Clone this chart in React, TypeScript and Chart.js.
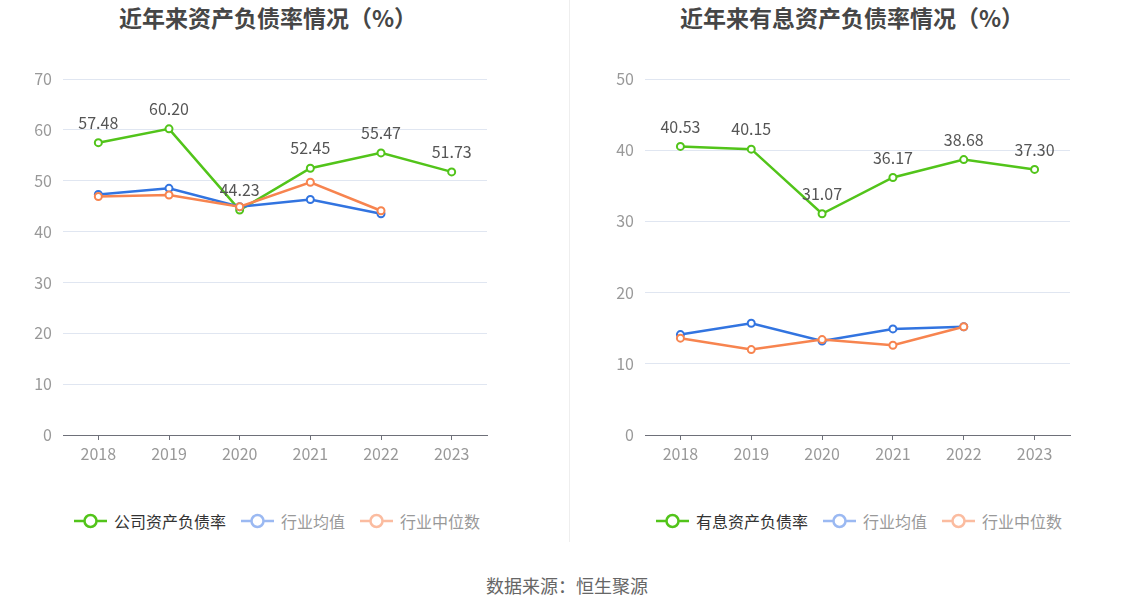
import React, { useEffect, useRef } from "react";
import { Chart, registerables } from "chart.js";

Chart.register(...registerables);

const FONT = '"Noto Sans CJK SC", "Noto Sans", sans-serif';

// --- data ---
const years = ["2018", "2019", "2020", "2021", "2022", "2023"];

const companyDebtRatio = [57.48, 60.2, 44.23, 52.45, 55.47, 51.73];
const industryAvgDebt = [47.3, 48.5, 44.9, 46.3, 43.5, null];
const industryMedianDebt = [46.9, 47.2, 44.9, 49.7, 44.1, null];

const interestDebtRatio = [40.53, 40.15, 31.07, 36.17, 38.68, 37.3];
const industryAvgInterest = [14.1, 15.7, 13.2, 14.9, 15.2, null];
const industryMedianInterest = [13.6, 12.0, 13.4, 12.6, 15.2, null];

const leftAxisMax = 70;
const rightAxisMax = 50;
const axisStep = 10;

const GREEN = "#52c41a";
const BLUE = "#3274e0";
const ORANGE = "#f7844f";
const BLUE_FADED = "#9bb9f2";
const ORANGE_FADED = "#fbbca0";

// draws the value above each point of the first series
const valueLabels = {
  id: "valueLabels",
  afterDatasetsDraw(chart: any) {
    const meta = chart.getDatasetMeta(0);
    const data = chart.data.datasets[0].data;
    const ctx = chart.ctx;
    ctx.save();
    ctx.font = `16px ${FONT}`;
    ctx.fillStyle = "#555";
    ctx.textAlign = "center";
    ctx.textBaseline = "middle";
    meta.data.forEach((pt: any, i: number) => {
      if (data[i] == null) return;
      ctx.fillText(Number(data[i]).toFixed(2), pt.x, pt.y - 20);
    });
    ctx.restore();
  },
};

function series(label: string, data: (number | null)[], color: string, order: number) {
  return {
    label,
    data,
    borderColor: color,
    backgroundColor: "#fff",
    pointBackgroundColor: "#fff",
    pointBorderColor: color,
    pointBorderWidth: 2,
    pointRadius: 3.5,
    borderWidth: 2.5,
    tension: 0,
    order,
  };
}

type PanelProps = {
  left: number;
  width: number;
  padLeft: number;
  padRight: number;
  yMax: number;
  datasets: any[];
};

function LinePanel({ left, width, padLeft, padRight, yMax, datasets }: PanelProps) {
  const canvasRef = useRef<HTMLCanvasElement>(null);

  useEffect(() => {
    if (!canvasRef.current) return;
    const chart = new Chart(canvasRef.current, {
      type: "line",
      data: { labels: years, datasets },
      options: {
        responsive: false,
        animation: false,
        layout: { padding: { top: 79, left: padLeft, right: padRight, bottom: 0 } },
        plugins: { legend: { display: false }, title: { display: false }, tooltip: { enabled: false } },
        scales: {
          x: {
            offset: true,
            grid: { drawOnChartArea: false, drawTicks: true, tickLength: 5, color: "#6e7079" },
            border: { display: true, color: "#6e7079", width: 1 },
            ticks: { color: "#999", font: { size: 16, family: FONT }, padding: 4 },
            afterFit: (s: any) => {
              s.height = 35;
            },
          },
          y: {
            min: 0,
            max: yMax,
            ticks: { stepSize: axisStep, color: "#999", font: { size: 16, family: FONT }, padding: 11 },
            grid: { color: "#e0e6f1", drawTicks: false },
            border: { display: false },
            afterFit: (s: any) => {
              s.width = 53;
            },
          },
        },
      },
      plugins: [valueLabels],
    });
    return () => chart.destroy();
  }, []);

  return (
    <canvas
      ref={canvasRef}
      width={width}
      height={470}
      style={{ position: "absolute", left, top: 0, width, height: 470 }}
    />
  );
}

function LegendMark({ color }: { color: string }) {
  return (
    <svg width="33" height="16" style={{ display: "block" }}>
      <line x1="0" y1="8" x2="33" y2="8" stroke={color} strokeWidth="2.5" />
      <circle cx="16.5" cy="8" r="6" fill="#fff" stroke={color} strokeWidth="2.5" />
    </svg>
  );
}

function Legend({ left, items }: { left: number; items: { label: string; color: string; text: string }[] }) {
  return (
    <div
      style={{
        position: "absolute",
        left,
        top: 509,
        height: 24,
        display: "flex",
        alignItems: "center",
        fontSize: 16,
        fontFamily: FONT,
      }}
    >
      {items.map((it, i) => (
        <div key={i} style={{ display: "flex", alignItems: "center", marginRight: 15 }}>
          <LegendMark color={it.color} />
          <span style={{ marginLeft: 7, color: it.text, lineHeight: "24px" }}>{it.label}</span>
        </div>
      ))}
    </div>
  );
}

export default function App() {
  useEffect(() => {
    document.body.style.margin = "0";
  }, []);

  const titleStyle: React.CSSProperties = {
    position: "absolute",
    top: 0,
    width: 500,
    textAlign: "center",
    fontSize: 23,
    fontWeight: "bold",
    lineHeight: "34px",
    color: "#464646",
    fontFamily: FONT,
  };

  return (
    <div style={{ position: "relative", width: 1134, height: 612, background: "#fff", overflow: "hidden" }}>
      <div style={{ ...titleStyle, left: 268 - 250 }}>近年来资产负债率情况（%）</div>
      <div style={{ ...titleStyle, left: 852 - 250 }}>近年来有息资产负债率情况（%）</div>

      <LinePanel
        left={0}
        width={567}
        padLeft={10}
        padRight={80}
        yMax={leftAxisMax}
        datasets={[
          series("公司资产负债率", companyDebtRatio, GREEN, 3),
          series("行业均值", industryAvgDebt, BLUE, 2),
          series("行业中位数", industryMedianDebt, ORANGE, 1),
        ]}
      />
      <LinePanel
        left={570}
        width={564}
        padLeft={22}
        padRight={64}
        yMax={rightAxisMax}
        datasets={[
          series("有息资产负债率", interestDebtRatio, GREEN, 3),
          series("行业均值", industryAvgInterest, BLUE, 2),
          series("行业中位数", industryMedianInterest, ORANGE, 1),
        ]}
      />

      <div style={{ position: "absolute", left: 569, top: 0, width: 1, height: 542, background: "#eeeeee" }} />

      <Legend
        left={74}
        items={[
          { label: "公司资产负债率", color: GREEN, text: "#333" },
          { label: "行业均值", color: BLUE_FADED, text: "#999" },
          { label: "行业中位数", color: ORANGE_FADED, text: "#999" },
        ]}
      />
      <Legend
        left={656}
        items={[
          { label: "有息资产负债率", color: GREEN, text: "#333" },
          { label: "行业均值", color: BLUE_FADED, text: "#999" },
          { label: "行业中位数", color: ORANGE_FADED, text: "#999" },
        ]}
      />

      <div
        style={{
          position: "absolute",
          top: 571,
          left: 0,
          width: 1134,
          textAlign: "center",
          fontSize: 18,
          lineHeight: "28px",
          color: "#666",
          fontFamily: FONT,
        }}
      >
        数据来源：恒生聚源
      </div>
    </div>
  );
}
